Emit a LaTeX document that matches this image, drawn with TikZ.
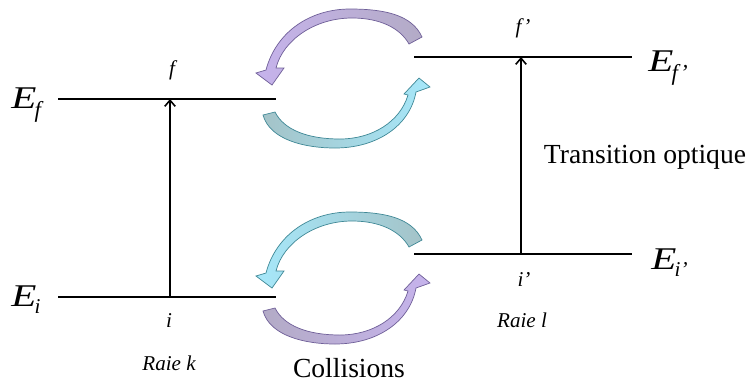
\documentclass[tikz,border=0pt]{standalone}
\usepackage{fontspec}
\setmainfont{Liberation Serif}
\usetikzlibrary{arrows.meta}
\definecolor{lavhead}{HTML}{C6B3EC}
\definecolor{lavtail}{HTML}{B3ABC6}
\definecolor{lavedge}{HTML}{6F5F98}
\definecolor{cyanhead}{HTML}{A6E8FA}
\definecolor{cyantail}{HTML}{A4C3C8}
\definecolor{cyanedge}{HTML}{3F8896}
\newcommand{\StretchE}{\scalebox{1.3}[1]{\textit{E}}}
\newcommand{\TopArcPath}{(422,37) .. controls (412,15) and (385,9) .. (350,9) .. controls (310,9) and (276,32) .. (266,70) -- (256,73) -- (272,85) -- (284,68) -- (276,68) .. controls (283,40) and (315,18) .. (352,18) .. controls (380,18) and (400,28) .. (409,44) -- cycle}
\newcommand{\BotArcPath}{(263,115) .. controls (270,140) and (305,148) .. (335,148) .. controls (378,148) and (410,125) .. (416,92) -- (430,87) -- (419,78) -- (404,94) -- (408,95) .. controls (400,122) and (372,139) .. (340,139) .. controls (308,139) and (284,130) .. (275,112) -- cycle}
\begin{document}
\begin{tikzpicture}[x=0.02cm,y=-0.02cm,
  levelline/.style={line width=1.1pt},
  transarrow/.style={line width=0.9pt,-{Straight Barb[length=3.5pt,width=6pt]}},
  elabel/.style={anchor=base west,inner sep=0pt,font=\fontsize{18}{19}\selectfont},
  smalllab/.style={inner sep=0pt,font=\fontsize{12}{12}\selectfont\itshape},
  bigtext/.style={inner sep=0pt,font=\fontsize{15.7}{16}\selectfont},
  lavarrow/.style={draw=lavedge,line width=0.4pt},
  cyanarrow/.style={draw=cyanedge,line width=0.4pt}]
\useasboundingbox (0,0) rectangle (750,383);
% levels
\coordinate (EfA) at (58,99);   \coordinate (EfB) at (276,99);
\coordinate (EiA) at (58,297);  \coordinate (EiB) at (276,297);
\coordinate (FpA) at (414,57);  \coordinate (FpB) at (632,57);
\coordinate (IpA) at (414,254); \coordinate (IpB) at (632,254);
\draw[levelline] (EfA) -- (EfB);
\draw[levelline] (EiA) -- (EiB);
\draw[levelline] (FpA) -- (FpB);
\draw[levelline] (IpA) -- (IpB);
% transitions
\coordinate (kLow) at (170,297); \coordinate (kHigh) at (170,99);
\coordinate (lLow) at (521,254); \coordinate (lHigh) at (521,57);
\draw[transarrow] (kLow) -- (kHigh);
\draw[transarrow] (lLow) -- (lHigh);
% energy labels
\node[elabel] (Ef) at (11,108) {\StretchE\kern-1pt\raisebox{-5.5pt}{\fontsize{13}{13}\selectfont\textit{f}}};
\node[elabel] (Ei) at (11,306) {\StretchE\kern-1pt\raisebox{-4.5pt}{\fontsize{12}{12}\selectfont\textit{i}}};
\node[elabel] (Efp) at (648,71) {\StretchE\kern-1pt\raisebox{-5.5pt}{\fontsize{13}{13}\selectfont\textit{f'}}};
\node[elabel] (Eip) at (651,269) {\StretchE\kern-1pt\raisebox{-4.5pt}{\fontsize{12}{12}\selectfont\textit{i'}}};
% small labels
\node[smalllab] (fk) at (172,70) {f};
\node[smalllab] (ik) at (169,321) {i};
\node[smalllab] (raiek) at (169,363) {Raie k};
\node[smalllab] (fl) at (523,28) {f'};
\node[smalllab] (il) at (524,279) {i'};
\node[smalllab] (raiel) at (522,320) {Raie l};
\node[bigtext] (trans) at (645,157) {Transition optique};
\node[bigtext] (coll) at (349,368) {Collisions};
% collision arrows, upper pair
\shadedraw[lavarrow,left color=lavhead,right color=lavtail] \TopArcPath;
\shadedraw[cyanarrow,left color=cyantail,right color=cyanhead] \BotArcPath;
% collision arrows, lower pair
\begin{scope}[shift={(0,203)}]
\shadedraw[cyanarrow,left color=cyanhead,right color=cyantail] \TopArcPath;
\end{scope}
\begin{scope}[shift={(0,196)}]
\shadedraw[lavarrow,left color=lavtail,right color=lavhead] \BotArcPath;
\end{scope}
\end{tikzpicture}
\end{document}
